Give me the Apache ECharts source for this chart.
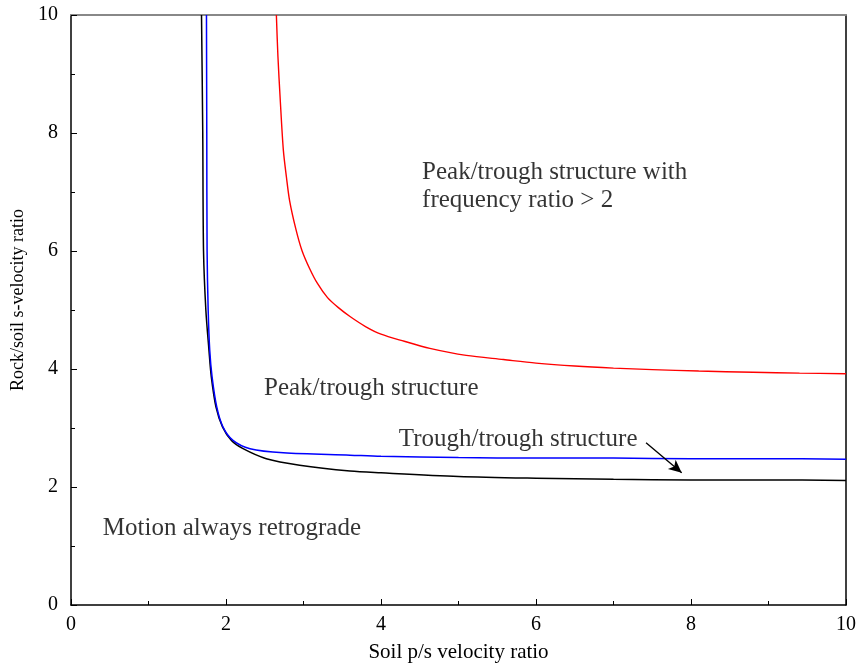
<!DOCTYPE html>
<html>
<head>
<meta charset="utf-8">
<script src="https://cdn.jsdelivr.net/npm/echarts@6/dist/echarts.min.js"></script>
<style>html,body{margin:0;padding:0;background:#fff}#c{width:861px;height:668px}</style>
</head>
<body>
<div id="c"></div>
<script>
// Curve data: [soil p/s velocity ratio, rock/soil s-velocity ratio]
const blackCurve = [[1.684,10],[1.70,8],[1.71,6],[1.74,5],[1.78,4.32],[1.81,3.87],[1.87,3.36],[1.955,3.02],[2.07,2.79],[2.22,2.65],[2.52,2.48],[2.95,2.37],[3.6,2.27],[4.0,2.24],[5,2.18],[6,2.15],[7,2.13],[8,2.12],[9,2.12],[10,2.11]];
const blueCurve = [[1.748,10],[1.752,8],[1.756,6],[1.77,5],[1.79,4.32],[1.82,3.87],[1.88,3.36],[1.96,3.02],[2.09,2.79],[2.31,2.65],[2.74,2.58],[3.6,2.54],[4.0,2.52],[5,2.50],[6,2.49],[7,2.49],[8,2.48],[9,2.48],[10,2.47]];
const redCurve = [[2.65,10],[2.67,9.3],[2.70,8.56],[2.74,7.71],[2.78,7.25],[2.82,6.86],[2.90,6.38],[2.98,6.01],[3.08,5.7],[3.18,5.45],[3.31,5.21],[3.45,5.04],[3.60,4.89],[3.80,4.72],[4.0,4.59],[4.3,4.47],[4.63,4.35],[5.1,4.23],[5.58,4.16],[6.0,4.10],[6.5,4.05],[7.0,4.015],[7.5,3.99],[8.1,3.965],[8.8,3.945],[9.4,3.93],[10,3.92]];
// Annotations
const annoText = ['Peak/trough structure with','frequency ratio > 2','Peak/trough structure','Trough/trough structure','Motion always retrograde'];
const annoX = [4.53,4.53,2.49,4.23,0.41];
const annoY = [7.34,6.85,3.67,2.81,1.30];
const arrowFrom = [7.42,2.75];
const arrowTo = [7.88,2.24];
const xTitle = 'Soil p/s velocity ratio';
const yTitle = 'Rock/soil s-velocity ratio';

const FONT = 'Liberation Serif';
const chart = echarts.init(document.getElementById('c'));
const axisCommon = {
  type:'value', min:0, max:10, interval:2,
  splitLine:{show:false},
  axisLine:{show:true, lineStyle:{color:'#000', width:1.5}},
  axisTick:{show:true, inside:true, length:6, lineStyle:{color:'#000', width:1}},
  minorTick:{show:true, splitNumber:2, length:4, lineStyle:{color:'#000', width:1}},
  axisLabel:{color:'#000', fontFamily:FONT, fontSize:20}
};
chart.setOption({
  backgroundColor:'#fff',
  animation:false,
  grid:{left:71, right:15, top:15, bottom:63},
  xAxis:[
    Object.assign({}, axisCommon, {position:'bottom', name:xTitle, nameLocation:'middle', nameGap:37,
      nameTextStyle:{color:'#000', fontFamily:FONT, fontSize:21},
      axisLabel:Object.assign({}, axisCommon.axisLabel, {margin:10})}),
    {type:'value', min:0, max:10, position:'top', axisLine:{show:true, onZero:false, lineStyle:{color:'#888', width:2}},
     axisTick:{show:false}, axisLabel:{show:false}, splitLine:{show:false}}
  ],
  yAxis:[
    Object.assign({}, axisCommon, {position:'left', name:yTitle, nameLocation:'middle', nameGap:36,
      nameTextStyle:{color:'#000', fontFamily:FONT, fontSize:18, padding:[0,0,0,20]},
      axisLabel:Object.assign({}, axisCommon.axisLabel, {margin:13})}),
    {type:'value', min:0, max:10, position:'right', axisLine:{show:true, onZero:false, lineStyle:{color:'#000', width:1.5}},
     axisTick:{show:false}, axisLabel:{show:false}, splitLine:{show:false}}
  ],
  series:[
    {type:'line', data:blackCurve, showSymbol:false, smooth:0.3, clip:true, lineStyle:{color:'#000', width:1.5}},
    {type:'line', data:blueCurve, showSymbol:false, smooth:0.3, clip:true, lineStyle:{color:'#0000ff', width:1.5}},
    {type:'line', data:redCurve, showSymbol:false, smooth:0.3, clip:true, lineStyle:{color:'#ff0000', width:1.4},
     markLine:{silent:true, symbol:['none','arrow'], symbolSize:[9,13], label:{show:false},
       lineStyle:{color:'#000', width:1.3, type:'solid'},
       data:[[{coord:arrowFrom},{coord:arrowTo}]]}},
    {type:'scatter', symbolSize:0, silent:true,
     data:annoX.map((x,i)=>({value:[x, annoY[i]], name:annoText[i]})),
     label:{show:true, position:'right', distance:0, formatter:p=>p.name, color:'#000', fontFamily:FONT, fontSize:25}}
  ]
});
</script>
</body>
</html>
